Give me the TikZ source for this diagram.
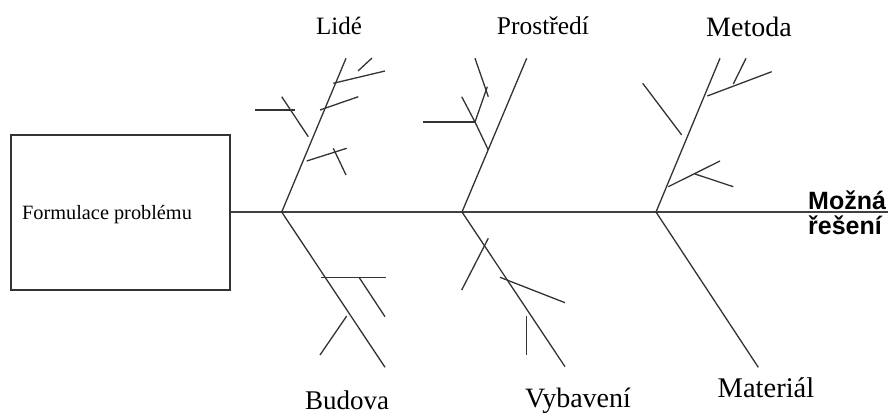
\documentclass[tikz,border=0pt]{standalone}
\usepackage{fontspec}
\setmainfont{Liberation Serif}
\newfontfamily\labelsans{Liberation Sans}
\begin{document}
\begin{tikzpicture}[x=1pt,y=-1pt,
  bone/.style={draw=black!80,line width=1.3pt},
  spine/.style={draw=black!75,line width=1.6pt},
  cat/.style={anchor=base,inner sep=0pt,font=\fontsize{26}{30}\selectfont},
  result/.style={anchor=base west,inner sep=0pt,font=\labelsans\bfseries\fontsize{25}{28}\selectfont},
  probbox/.style={draw=black!80,line width=1.5pt,minimum width=219pt,minimum height=155pt,inner sep=0pt}]
\useasboundingbox (0,0) rectangle (888,414);

% problem box and spine
\node[probbox] (prob) at (120.5,212.5) {};
\node[anchor=base west,inner sep=0pt,font=\fontsize{20.3}{24}\selectfont] (probtxt) at (22,219) {Formulace problému};
\coordinate (tail) at (888,212);
\draw[spine] (prob.east |- 0,212) -- (tail);

% result label
\node[result] (res1) at (808,209) {Možná};
\node[result] (res2) at (808,234) {řešení};

% joints on the spine
\coordinate (j1) at (281.7,212);
\coordinate (j2) at (462,212);
\coordinate (j3) at (656,212);

% main bones
\coordinate (t1) at (346,58.3);
\coordinate (b1) at (385,367.3);
\coordinate (t2) at (526.7,58.3);
\coordinate (b2) at (565,366.7);
\coordinate (t3) at (720,58.3);
\coordinate (b3) at (758.3,367.3);
\draw[bone] (j1) -- (t1);
\draw[bone] (j1) -- (b1);
\draw[bone] (j2) -- (t2);
\draw[bone] (j2) -- (b2);
\draw[bone] (j3) -- (t3);
\draw[bone] (j3) -- (b3);

% category labels
\node[cat,font=\fontsize{25}{30}\selectfont] (lide) at (339,35) {Lidé};
\node[cat,font=\fontsize{25.5}{30}\selectfont] (prostr) at (543,35) {Prostředí};
\node[cat,font=\fontsize{28}{30}\selectfont] (metoda) at (749,37) {Metoda};
\node[cat,font=\fontsize{27}{30}\selectfont] (budova) at (347,409) {Budova};
\node[cat,font=\fontsize{28}{30}\selectfont] (vybav) at (578,407) {Vybavení};
\node[cat,font=\fontsize{28.5}{30}\selectfont] (mater) at (766,397) {Materiál};

% Lidé sub-bones
\draw[bone] (333.3,83.3) -- (385,71);
\draw[bone] (358,71) -- (372,58);
\draw[bone] (320,110) -- (358.3,96.7);
\draw[bone] (255,110) -- (295,110);
\draw[bone] (281.7,96.7) -- (308.3,136.7);
\draw[bone] (306.7,161) -- (346.7,148.3);
\draw[bone] (333.3,148.3) -- (346,175);

% Budova sub-bones
\draw[bone] (321,277.7) -- (385.7,277.7);
\draw[bone] (359.3,277.7) -- (385,316.7);
\draw[bone] (346.7,316) -- (320,355);

% Prostředí sub-bones
\coordinate (p1) at (475,122);
\draw[bone] (475,58.3) -- (488.3,96.7);
\draw[bone] (p1) -- (487.3,86.7);
\draw[bone] (461.7,96.7) -- (p1);
\draw[bone] (423.3,122) -- (p1);
\draw[bone] (p1) -- (488.3,150);

% Vybavení sub-bones
\draw[bone] (488.3,238.3) -- (461.7,290);
\draw[bone] (500,277.3) -- (565,302.7);
\draw[bone] (526.7,316) -- (526.7,355);

% Metoda sub-bones
\draw[bone] (707.3,96) -- (771.7,71.7);
\draw[bone] (733.3,84) -- (746,58.3);
\draw[bone] (642.7,83.3) -- (681.7,135);
\draw[bone] (668.3,186.7) -- (720,161);
\draw[bone] (695,174) -- (733.3,186.7);
\end{tikzpicture}
\end{document}
